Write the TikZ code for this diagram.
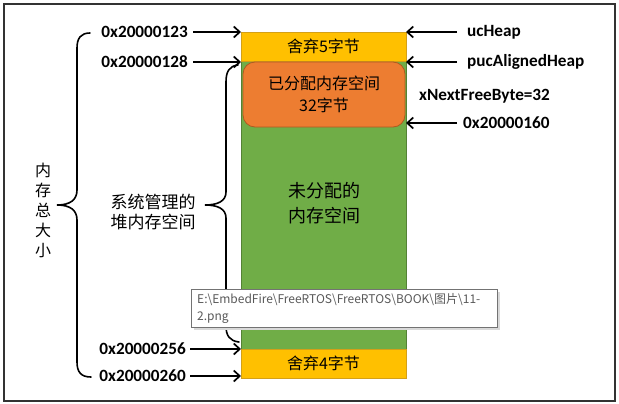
\documentclass[tikz,border=0pt]{standalone}
\usepackage{fontspec}
\setmainfont{Carlito}
\newfontfamily\cjk{Noto Sans CJK SC}
\usetikzlibrary{arrows.meta}
\definecolor{yel}{HTML}{FFC000}
\definecolor{yelline}{HTML}{D4A017}
\definecolor{grn}{HTML}{70AD47}
\definecolor{grnline}{HTML}{548235}
\definecolor{org}{HTML}{ED7D31}
\definecolor{orgline}{HTML}{AE5A21}
\definecolor{tipgray}{HTML}{595959}
\begin{document}
\begin{tikzpicture}[x=1pt,y=-1pt,
  frame/.style={draw=black!80, line width=1.5pt},
  yelbox/.style={draw=yelline, fill=yel, line width=0.8pt, inner sep=0pt, outer sep=0pt,
     minimum width=165pt, minimum height=29pt, font=\cjk\fontsize{16}{20}\selectfont},
  grnbox/.style={draw=grnline, fill=grn, line width=0.8pt, inner sep=0pt, outer sep=0pt,
     minimum width=165pt, minimum height=288pt},
  orgbox/.style={draw=orgline, fill=org, line width=0.8pt, rounded corners=12pt, inner sep=0pt, outer sep=0pt,
     minimum width=162pt, minimum height=65pt, align=center, font=\cjk\fontsize{16}{22}\selectfont},
  lab/.style={inner sep=0pt, font=\bfseries\fontsize{17.2}{18}\selectfont},
  arr/.style={line width=1.7pt, -{Straight Barb[length=6pt,width=11pt,line width=1.7pt]}},
  brace/.style={line width=1.6pt, line cap=round},
  cjktext/.style={align=center, inner sep=0pt},
  tip/.style={draw=black!55, fill=white, line width=0.8pt}
]
\useasboundingbox (0,0) rectangle (619,404);
\draw[frame] (4,4) rectangle (615,401);

% column
\node[grnbox] (free) at (323.5,205) {};
\node[yelbox] (top) at (323.5,46.5) {舍弃5字节};
\node[yelbox] (bot) at (323.5,363.5) {舍弃4字节};
\node[orgbox] (alloc) at (324,94.5) {已分配内存空间\\32字节};
\node[cjktext, font=\cjk\fontsize{18}{25}\selectfont] (unalloc) at (324,203) {未分配的\\内存空间};

% left labels
\node[lab, anchor=east] (a123) at (188,32) {0x20000123};
\node[lab, anchor=east] (a128) at (188,62) {0x20000128};
\node[lab, anchor=east] (a256) at (186,349) {0x20000256};
\node[lab, anchor=east] (a260) at (186,376) {0x20000260};
\draw[arr] ([xshift=5pt]a123.east) -- (a123.east -| top.west);
\draw[arr] ([xshift=5pt]a128.east) -- (a128.east -| free.west);
\draw[arr] ([xshift=4pt]a256.east) -- (a256.east -| bot.west);
\draw[arr] ([xshift=4pt]a260.east) -- (a260.east -| bot.west);

% right labels
\node[lab, anchor=west] (uc) at (467,32) {ucHeap};
\node[lab, anchor=west] (pa) at (467,62) {pucAlignedHeap};
\node[lab, anchor=west] (nf) at (419,96) {xNextFreeByte=32};
\node[lab, anchor=west] (a160) at (463,123) {0x20000160};
\draw[arr] ([xshift=-10pt]uc.west) -- (uc.west -| top.east);
\draw[arr] ([xshift=-10pt]pa.west) -- (pa.west -| free.east);
\draw[arr] ([xshift=-6pt]a160.west) -- (a160.west -| free.east);

% outer brace
\draw[brace] (90,33) .. controls (81,33) and (77,38) .. (77,48) -- (77,190)
  .. controls (77,200) and (70,205) .. (57,205)
  .. controls (70,205) and (77,210) .. (77,220) -- (77,362)
  .. controls (77,372) and (81,377) .. (91,377);
\node[cjktext, font=\cjk\fontsize{16}{20}\selectfont] (total) at (43,210) {内\\存\\总\\大\\小};

% inner brace
\draw[brace] (238,65) .. controls (229,66) and (226,72) .. (226,82) -- (226,192)
  .. controls (226,201) and (218,205) .. (205,205)
  .. controls (218,205) and (226,209) .. (226,218) -- (226,326)
  .. controls (226,336) and (230,341) .. (239,342);
\node[cjktext, font=\cjk\fontsize{17}{20}\selectfont] (sys) at (153,212) {系统管理的\\堆内存空间};

% tooltip
\fill[black!15] (194,292) rectangle (500,330);
\draw[tip] (191,289) rectangle (497,327);
\node[inner sep=0pt, anchor=west, align=left, text=tipgray, font=\cjk\fontsize{12}{17}\selectfont] (tiptext) at (197,308.5)
  {E:\textbackslash EmbedFire\textbackslash FreeRTOS\textbackslash FreeRTOS\textbackslash BOOK\textbackslash 图片\textbackslash 11-\\2.png};
\end{tikzpicture}
\end{document}
